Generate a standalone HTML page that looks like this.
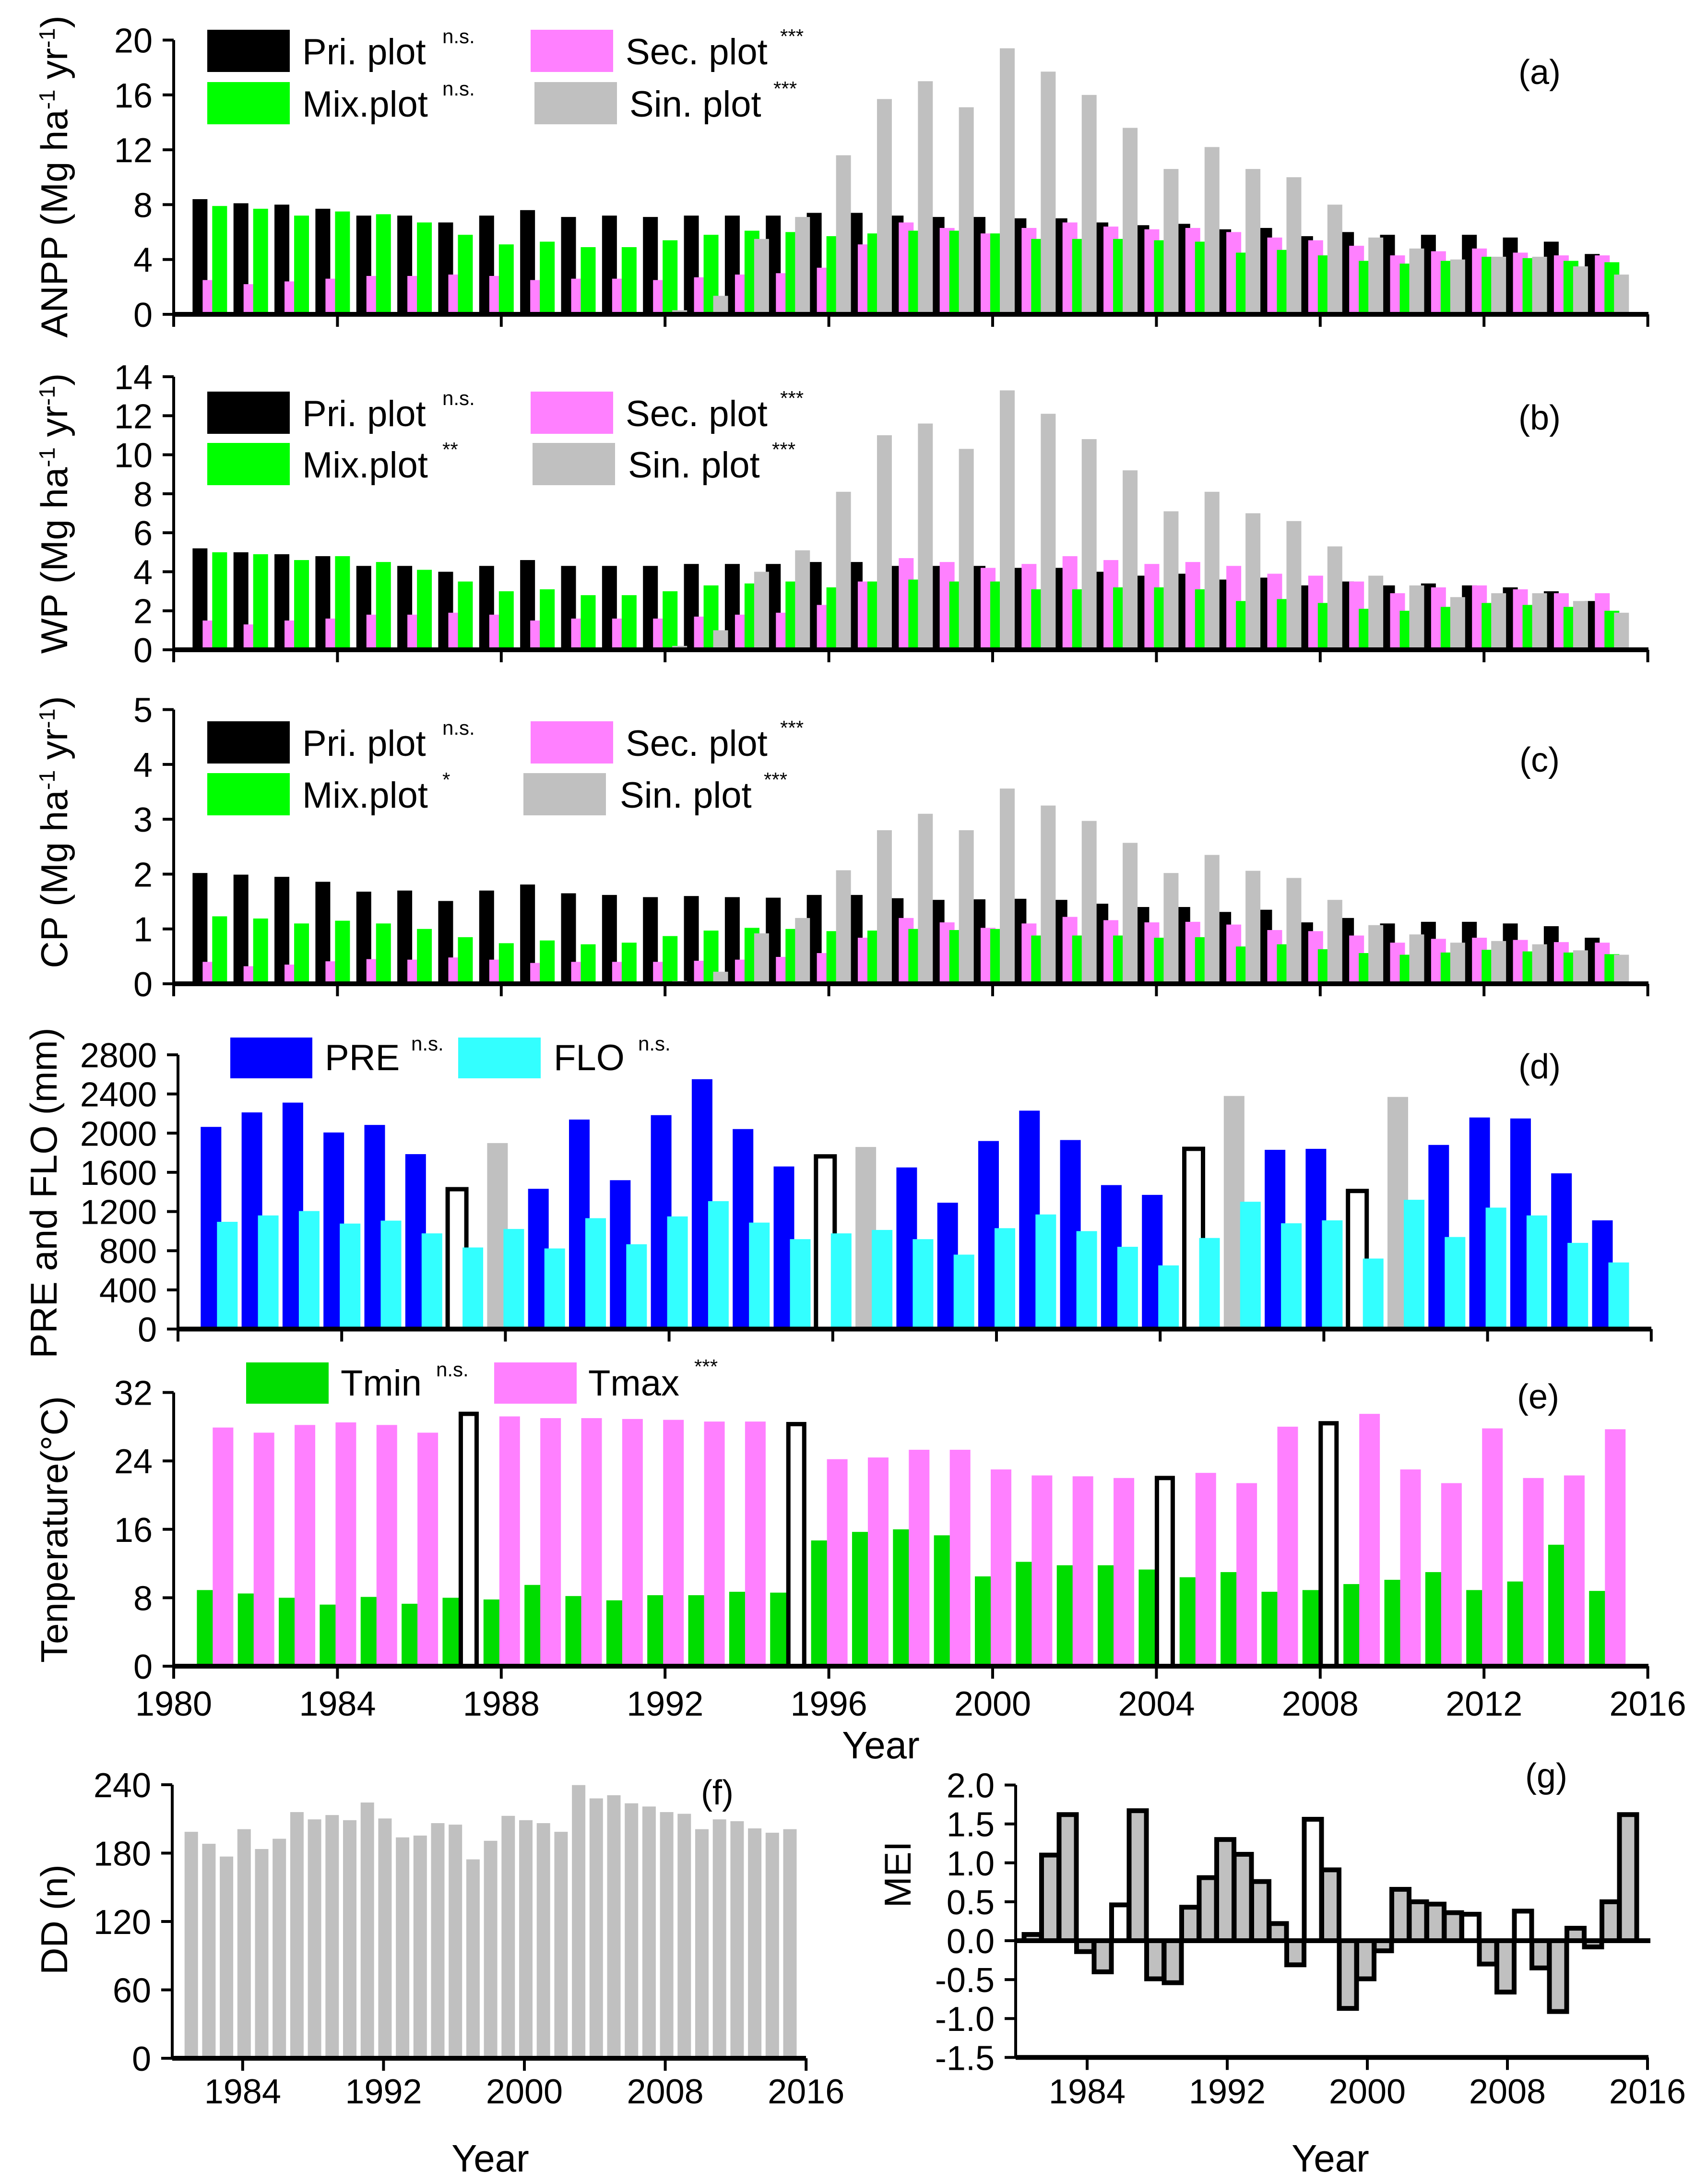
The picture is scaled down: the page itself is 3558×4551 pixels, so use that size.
<!DOCTYPE html>
<html><head><meta charset="utf-8"><style>
html,body{margin:0;padding:0;background:#fff}
svg{display:block}
text{font-family:"Liberation Sans",Arial,sans-serif;fill:#000}
</style></head><body>
<svg id="chart" xmlns="http://www.w3.org/2000/svg" width="3558" height="4551" viewBox="0 0 3558 4551"></svg>
<script>
const years=[];for(let y=1981;y<=2015;y++)years.push(y);
const anppPri=[8.4,8.1,8.0,7.7,7.2,7.2,6.7,7.2,7.6,7.1,7.2,7.1,7.2,7.2,7.2,7.4,7.4,7.2,7.1,7.1,7.0,7.0,6.7,6.5,6.6,6.2,6.3,5.7,6.0,5.8,5.8,5.8,5.6,5.3,4.4];
const anppSec=[2.5,2.2,2.4,2.6,2.8,2.8,2.9,2.8,2.5,2.6,2.6,2.5,2.7,2.9,3.0,3.4,5.1,6.7,6.3,5.9,6.3,6.7,6.4,6.2,6.3,6.0,5.6,5.4,5.0,4.3,4.6,4.8,4.5,4.3,4.3];
const anppMix=[7.9,7.7,7.2,7.5,7.3,6.7,5.8,5.1,5.3,4.9,4.9,5.4,5.8,6.1,6.0,5.7,5.9,6.1,6.1,5.9,5.5,5.5,5.5,5.4,5.3,4.5,4.7,4.3,3.9,3.7,3.9,4.2,4.1,3.9,3.8];
const anppSin=[0,0,0,0,0,0,0,0,0,0,0,0.3,1.35,5.5,7.1,11.6,15.7,17.0,15.1,19.4,17.7,16.0,13.6,10.6,12.2,10.6,10.0,8.0,5.6,4.8,4.0,4.2,4.2,3.5,2.9];
const wpPri=[5.2,5.0,4.9,4.8,4.3,4.3,4.0,4.3,4.6,4.3,4.3,4.3,4.4,4.4,4.4,4.5,4.5,4.3,4.3,4.3,4.2,4.2,4.0,3.8,3.9,3.6,3.7,3.3,3.5,3.3,3.4,3.3,3.2,3.0,2.5];
const wpSec=[1.5,1.3,1.5,1.6,1.8,1.8,1.9,1.8,1.5,1.6,1.6,1.6,1.7,1.8,1.9,2.3,3.5,4.7,4.5,4.2,4.4,4.8,4.6,4.4,4.5,4.3,3.9,3.8,3.5,2.9,3.2,3.3,3.1,2.9,2.9];
const wpMix=[5.0,4.9,4.6,4.8,4.5,4.1,3.5,3.0,3.1,2.8,2.8,3.0,3.3,3.4,3.5,3.2,3.5,3.6,3.5,3.5,3.1,3.1,3.2,3.2,3.1,2.5,2.6,2.4,2.1,2.0,2.2,2.4,2.3,2.2,2.0];
const wpSin=[0,0,0,0,0,0,0,0,0,0,0,0.2,1.0,4.0,5.1,8.1,11.0,11.6,10.3,13.3,12.1,10.8,9.2,7.1,8.1,7.0,6.6,5.3,3.8,3.3,2.7,2.9,2.9,2.5,1.9];
const cpPri=[2.02,1.99,1.95,1.86,1.68,1.70,1.51,1.70,1.81,1.65,1.62,1.58,1.60,1.58,1.57,1.62,1.62,1.56,1.53,1.54,1.55,1.53,1.46,1.40,1.40,1.31,1.35,1.12,1.20,1.10,1.13,1.13,1.10,1.05,0.84];
const cpSec=[0.40,0.32,0.35,0.41,0.45,0.44,0.48,0.44,0.38,0.40,0.40,0.40,0.42,0.44,0.49,0.56,0.84,1.20,1.12,1.02,1.10,1.22,1.16,1.12,1.13,1.08,0.98,0.96,0.88,0.75,0.82,0.84,0.80,0.76,0.75];
const cpMix=[1.23,1.19,1.10,1.15,1.10,1.00,0.85,0.74,0.79,0.72,0.75,0.87,0.97,1.02,1.00,0.96,0.97,1.00,0.98,1.00,0.88,0.88,0.88,0.84,0.85,0.68,0.72,0.63,0.56,0.53,0.57,0.62,0.59,0.57,0.54];
const cpSin=[0,0,0,0,0,0,0,0,0,0,0,0.05,0.22,0.92,1.20,2.07,2.80,3.10,2.80,3.56,3.25,2.97,2.57,2.02,2.35,2.06,1.93,1.53,1.07,0.90,0.75,0.78,0.72,0.61,0.53];
const pre=[2064,2212,2312,2007,2084,1786,1428,1899,1432,2139,1520,2184,2551,2042,1660,1763,1859,1650,1290,1920,2230,1930,1470,1370,1840,2380,1830,1840,1410,2370,1880,2160,2150,1590,1110];
const preType=['n','n','n','n','n','n','h','g','n','n','n','n','n','n','n','h','g','n','n','n','n','n','n','n','h','g','n','n','h','g','n','n','n','n','n'];
const flo=[1095,1160,1205,1077,1107,977,833,1022,823,1132,866,1150,1306,1087,918,977,1012,918,760,1030,1170,1000,840,650,930,1300,1080,1110,720,1320,940,1240,1160,880,680];
const tmax=[27.9,27.3,28.2,28.5,28.2,27.3,29.5,29.2,29.0,29.0,28.9,28.8,28.6,28.6,28.3,24.2,24.4,25.3,25.3,23.0,22.3,22.2,22.0,22.0,22.6,21.4,28.0,28.4,29.5,23.0,21.4,27.8,22.0,22.3,27.7];
const tmaxType=['n','n','n','n','n','n','h','n','n','n','n','n','n','n','h','n','n','n','n','n','n','n','n','h','n','n','n','h','n','n','n','n','n','n','n'];
const tmin=[8.9,8.5,8.0,7.2,8.1,7.3,8.0,7.8,9.5,8.2,7.7,8.3,8.3,8.7,8.6,14.7,15.7,16.0,15.3,10.5,12.2,11.8,11.8,11.3,10.4,11.0,8.7,8.9,9.6,10.1,11.0,8.9,9.9,14.2,8.8];
const dd=[198.7,188.2,177,201,183.6,192.6,216,209.6,213.4,208.9,224.4,210.4,193.8,195.4,206.3,205,174.5,190.8,212.7,208.9,206.3,198.7,239.7,228,230.8,223.7,220.9,216,214.5,201,209.6,208,201.7,197.9,201];
const mei=[0.08,1.10,1.62,-0.14,-0.40,0.46,1.67,-0.49,-0.54,0.43,0.81,1.30,1.11,0.76,0.22,-0.31,1.56,0.91,-0.87,-0.49,-0.13,0.66,0.50,0.47,0.36,0.34,-0.30,-0.66,0.38,-0.35,-0.91,0.16,-0.08,0.50,1.62];
const meiHollow=[0,0,0,0,0,1,0,0,0,0,0,0,0,0,0,0,1,0,0,0,0,0,0,0,0,1,0,0,1,0,0,0,0,0,0];
const ticksA=[0,4,8,12,16,20],ticksB=[0,2,4,6,8,10,12,14],ticksC=[0,1,2,3,4,5];
const ticksD=[0,400,800,1200,1600,2000,2400,2800],ticksE=[0,8,16,24,32];
const ticksF=[0,60,120,180,240],ticksG=[-1.5,-1.0,-0.5,0.0,0.5,1.0,1.5,2.0];
const yearTicks4=[1980,1984,1988,1992,1996,2000,2004,2008,2012,2016],yearTicks8=[1984,1992,2000,2008,2016];

const NS='http://www.w3.org/2000/svg';const svg=document.getElementById('chart');
function mk(tag,attrs,parent){const e=document.createElementNS(NS,tag);for(const k in attrs)e.setAttribute(k,attrs[k]);(parent||svg).appendChild(e);return e;}
function group(name){const g=mk('g',{});


return g;}
function rect(p,name,x,y,w,h,fill,stroke,sw){const r=mk('rect',{x:x,y:y,width:w,height:Math.max(h,0),fill:fill},p);if(stroke){r.setAttribute('stroke',stroke);r.setAttribute('stroke-width',sw);}


return r;}
function txt(p,name,x,y,s,size,anchor,extra){const t=mk('text',Object.assign({x:x,y:y,'font-size':size,'text-anchor':anchor||'start'},extra||{}),p);t.textContent=s;


return t;}
function line(p,name,x1,y1,x2,y2,w){const l=mk('line',{x1:x1,y1:y1,x2:x2,y2:y2,stroke:'#000','stroke-width':w},p);


return l;}
function ytitle(p,name,x,y,parts,size){const t=mk('text',{transform:`translate(${x},${y}) rotate(-90)`,'font-size':size,'text-anchor':'middle'},p);


parts.forEach(pt=>{const s=mk('tspan',{},t);s.textContent=pt[0];if(pt[1]){s.setAttribute('baseline-shift','super');s.setAttribute('font-size',size*0.6);}});return t;}
function axesY(p,x0,yOf,ticks,fmt,top,bottom){line(p,'y-axis-line',x0,top,x0,bottom,6);ticks.forEach(v=>{line(p,'y-tick',x0-23,yOf(v),x0,yOf(v),6);txt(p,'y-tick-label',x0-44,yOf(v)+26,fmt(v),72,'end');});}
function axesX(p,xOf,y0,ticks,labels,xl,xr,labY){line(p,'x-axis-line',xl,y0,xr,y0,10);ticks.forEach(t=>{line(p,'x-tick',xOf(t),y0,xOf(t),y0+26,6);if(labels)txt(p,'x-tick-label',xOf(t),labY,String(t),72,'middle');});}
function legend(p,items){items.forEach(it=>{rect(p,'legend-swatch',it.sx,it.sy,172,it.sh,it.c);txt(p,'legend-label',it.tx,it.ty,it.t,76,'start');txt(p,'legend-significance',it.tx+it.sup,it.ty-44,it.s,42,'start');});}

// panels a-c
function prodPanel(name,data,ymax,base,top,ticks,title,titleY,legendRows,labelY,panelLabel){
 const g=group(name);const xOf=y=>362+85.35*(y-1980);const yOf=v=>base-(base-top)*v/ymax;
 const cols=[['#000000',-46,'pri'],['#ff80ff',-25,'sec'],['#00ff00',-5,'mix'],['#c0c0c0',15,'sin']];
 data.forEach((arr,si)=>{arr.forEach((v,i)=>{if(v<=0)return;rect(g,'bar-'+cols[si][2]+'-'+years[i],xOf(years[i])+cols[si][1],yOf(v),31,base-yOf(v),cols[si][0]);});});
 axesY(g,362,yOf,ticks,v=>String(v),top,base);
 axesX(g,xOf,base,yearTicks4,false,362,3436,0);
 ytitle(g,'y-axis-title',140,titleY,title,78);
 legend(g,legendRows);
 txt(g,'panel-label',3209,labelY,panelLabel,72,'middle');
}
function rows(r1,r2,h1,h2,sinX,sinTx,s){return[
 {sx:432,sy:r1,sh:88,c:'#000',tx:630,ty:r1+72,t:'Pri. plot',s:s[0],sup:292},
 {sx:1106,sy:r1,sh:88,c:'#ff80ff',tx:1304,ty:r1+72,t:'Sec. plot',s:s[1],sup:322},
 {sx:432,sy:r2,sh:88,c:'#00ff00',tx:630,ty:r2+72,t:'Mix.plot',s:s[2],sup:292},
 {sx:sinX,sy:r2,sh:88,c:'#c0c0c0',tx:sinTx,ty:r2+72,t:'Sin. plot',s:s[3],sup:300}];}
prodPanel('panel-a-anpp',[anppPri,anppSec,anppMix,anppSin],20,655,83.5,ticksA,[['ANPP (Mg ha'],['-1',1],[' yr'],['-1',1],[')']],368,rows(62,171,0,0,1114,1312,['n.s.','***','n.s.','***']),175,'(a)');
prodPanel('panel-b-wp',[wpPri,wpSec,wpMix,wpSin],14,1354,785,ticksB,[['WP (Mg ha'],['-1',1],[' yr'],['-1',1],[')']],1070,rows(816,923,0,0,1110,1309,['n.s.','***','**','***']),895,'(b)');
prodPanel('panel-c-cp',[cpPri,cpSec,cpMix,cpSin],5,2050,1478.6,ticksC,[['CP (Mg ha'],['-1',1],[' yr'],['-1',1],[')']],1734,rows(1503,1611,0,0,1091,1292,['n.s.','***','*','***']),1608,'(c)');

// panel d
(function(){const g=group('panel-d-pre-flo');const base=2769.5,top=2198;const xOf=y=>371+85.3*(y-1980);const yOf=v=>base-(base-top)*v/2800;
 pre.forEach((v,i)=>{const c=xOf(years[i]);const t=preType[i];
  if(t==='h')rect(g,'bar-pre-hollow-'+years[i],c-35,yOf(v),39,base-yOf(v),'#fff','#000',9);
  else rect(g,'bar-pre-'+years[i],c-38,yOf(v),43,base-yOf(v),t==='g'?'#c0c0c0':'#0000ff');});
 flo.forEach((v,i)=>{const c=xOf(years[i]);rect(g,'bar-flo-'+years[i],c-4,yOf(v),43,base-yOf(v),'#33ffff');});
 axesY(g,371,yOf,ticksD,v=>String(v),top,base);
 axesX(g,xOf,base,yearTicks4,false,371,3442,0);
 ytitle(g,'y-axis-title',118,2486,[['PRE and FLO (mm)']],78);
 rect(g,'legend-swatch-pre',480,2162,171,85,'#0000ff');txt(g,'legend-label-pre',677,2230,'PRE',76);txt(g,'legend-significance',857,2189,'n.s.',42);
 rect(g,'legend-swatch-flo',955,2162,172,85,'#33ffff');txt(g,'legend-label-flo',1154,2230,'FLO',76);txt(g,'legend-significance',1330,2189,'n.s.',42);
 txt(g,'panel-label',3209,2247,'(d)',72,'middle');})();

// panel e
(function(){const g=group('panel-e-temperature');const base=3472,top=2901.6;const xOf=y=>362+85.35*(y-1980);const yOf=v=>base-(base-top)*v/32;
 tmin.forEach((v,i)=>{const c=xOf(years[i]);rect(g,'bar-tmin-'+years[i],c-37,yOf(v),43,base-yOf(v),'#00dd00');});
 tmax.forEach((v,i)=>{const c=xOf(years[i]);
  if(tmaxType[i]==='h')rect(g,'bar-tmax-hollow-'+years[i],c+1,yOf(v),33,base-yOf(v),'#fff','#000',9);
  else rect(g,'bar-tmax-'+years[i],c-4,yOf(v),43,base-yOf(v),'#ff80ff');});
 axesY(g,362,yOf,ticksE,v=>String(v),top,base);
 axesX(g,xOf,base,yearTicks4,true,362,3436,3575);
 txt(g,'x-axis-title',1836,3664,'Year',80,'middle');
 ytitle(g,'y-axis-title',140,3187,[['Tenperature(°C)']],78);
 rect(g,'legend-swatch-tmin',513,2839,172,86,'#00dd00');txt(g,'legend-label-tmin',710,2908,'Tmin',76);txt(g,'legend-significance',909,2868,'n.s.',42);
 rect(g,'legend-swatch-tmax',1030,2839,172,86,'#ff80ff');txt(g,'legend-label-tmax',1226,2908,'Tmax',76);txt(g,'legend-significance',1447,2862,'***',42);
 txt(g,'panel-label',3206,2935,'(e)',72,'middle');})();

// panel f
(function(){const g=group('panel-f-dd');const base=4289,top=3719;const xOf=y=>359+36.7*(y-1980);const yOf=v=>base-(base-top)*v/240;
 dd.forEach((v,i)=>{const c=xOf(years[i]);rect(g,'bar-dd-'+years[i],c-11,yOf(v),28,base-yOf(v),'#c0c0c0');});
 axesY(g,359,yOf,ticksF,v=>String(v),top,base);
 axesX(g,xOf,base,yearTicks8,true,359,1680,4383);
 txt(g,'x-axis-title',1022,4525,'Year',80,'middle');
 ytitle(g,'y-axis-title',140,4000,[['DD (n)']],78);
 txt(g,'panel-label',1495,3760,'(f)',72,'middle');})();

// panel g
(function(){const g=group('panel-g-mei');const zero=4044,unit=162.2;const xOf=y=>2120+36.5*(y-1980);const yOf=v=>zero-unit*v;
 mei.forEach((v,i)=>{const c=xOf(years[i]);const y1=Math.min(yOf(v),zero),h=Math.abs(yOf(v)-zero);
  rect(g,'bar-mei-'+years[i],c-22,y1,36,h,meiHollow[i]?'#ffffff':'#c0c0c0','#000',10);});
 line(g,'zero-line',2117,zero,3440,zero,10);
 axesY(g,2117,yOf,ticksG,v=>v.toFixed(1),yOf(2.0),yOf(-1.5));
 axesX(g,xOf,yOf(-1.5),yearTicks8,true,2117,3436,4383);
 txt(g,'x-axis-title',2773,4525,'Year',80,'middle');
 ytitle(g,'y-axis-title',1898,3906,[['MEI']],78);
 txt(g,'panel-label',3223,3725,'(g)',72,'middle');})();
</script>
</body></html>
